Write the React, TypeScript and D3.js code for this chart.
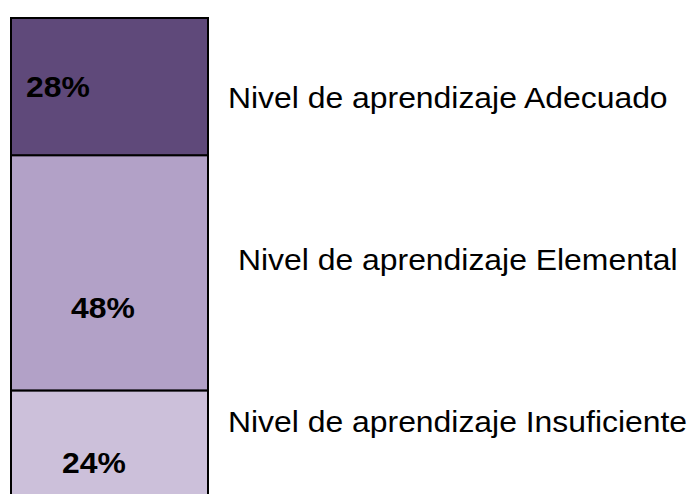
import React from 'react';
import * as d3 from 'd3';

// bottom to top, as stacked in the bar
const levels = ['Insuficiente', 'Elemental', 'Adecuado'];
const shares = [24, 48, 28];
const fills = ['#CCC0DA', '#B2A1C7', '#5F497A'];

const width = 690;
const height = 494;
const stretch = 1.1; // text in the picture is drawn a bit wide
const fontSize = 29;
const font = 'Arial, "Liberation Sans", sans-serif';

// small nudges so labels sit where they do in the picture
const pctNudge = [{ x: 62, dy: 24 }, { x: 71, dy: 45 }, { x: 26, dy: 10 }];
const nameNudge = [0, 10, 0];

const App = () => {
  const row: Record<string, number> = {};
  levels.forEach((l, i) => (row[l] = shares[i]));
  const series = d3.stack<Record<string, number>>().keys(levels)([row]);

  const y = d3.scaleLinear().domain([0, 100]).range([508, 18]);
  const x = d3.scaleBand().domain(['total']).range([11, 208]);
  const legendY = d3.scalePoint().domain([...levels].reverse()).range([108, 432]);

  return (
    <svg width={width} height={height} style={{ position: 'absolute', left: 0, top: 0, background: '#fff' }}>
      {series.map((s, i) => {
        const [y0, y1] = s[0];
        return (
          <g key={s.key}>
            <rect
              x={x('total')}
              y={y(y1)}
              width={x.bandwidth()}
              height={y(y0) - y(y1)}
              fill={fills[i]}
              stroke="#000"
              strokeWidth={2}
            />
            <text
              transform={`translate(${pctNudge[i].x},${(y(y0) + y(y1)) / 2 + pctNudge[i].dy}) scale(${stretch},1)`}
              fontFamily={font}
              fontWeight="bold"
              fontSize={fontSize}
              fill="#000"
            >
              {`${shares[i]}%`}
            </text>
            <text
              transform={`translate(${228 + nameNudge[i]},${legendY(s.key)}) scale(${stretch},1)`}
              fontFamily={font}
              fontSize={fontSize}
              fill="#000"
            >
              {`Nivel de aprendizaje ${s.key}`}
            </text>
          </g>
        );
      })}
    </svg>
  );
};

export default App;
